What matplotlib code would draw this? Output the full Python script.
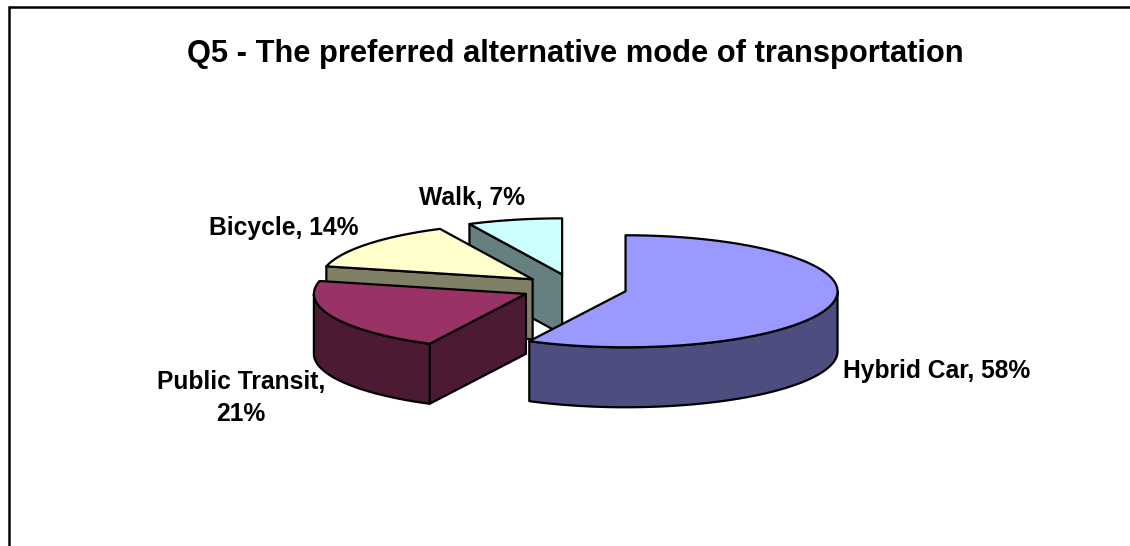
import numpy as np
import matplotlib
matplotlib.use("Agg")
import matplotlib.pyplot as plt
from matplotlib.patches import Polygon

plt.rcParams['font.family'] = ['Liberation Sans', 'DejaVu Sans']

title = "Q5 - The preferred alternative mode of transportation"
categories = ["Hybrid Car", "Public Transit", "Bicycle", "Walk"]
values = [57.5, 21.2, 14.1, 7.2]
top_colors = ["#9999FF", "#993366", "#FFFFCC", "#CCFFFF"]
side_colors = ["#4D4D80", "#4D1A33", "#808066", "#668080"]

W, H = 1130, 546
fig = plt.figure(figsize=(W / 100, H / 100), dpi=100)
ax = fig.add_axes([0, 0, 1, 1])
ax.set_xlim(0, W)
ax.set_ylim(H, 0)
ax.axis("off")

cx, cy, rx, ry, depth, explode = 574, 288, 212, 56, 60, 0.25

def pts(ax_, ay_, a):
    a = np.radians(a)
    return np.column_stack([ax_ + rx * np.sin(a), ay_ - ry * np.cos(a)])

fracs = np.array(values) / sum(values) * 360
starts = np.concatenate([[0], np.cumsum(fracs)[:-1]])
order = [3, 2, 1, 0]
lw = 1.6
for i in order:
    a0, a1 = starts[i], starts[i] + fracs[i]
    mid = np.radians((a0 + a1) / 2)
    ax_ = cx + explode * rx * np.sin(mid)
    ay_ = cy - explode * ry * np.cos(mid)
    style = dict(ec="black", lw=lw, joinstyle="round")
    # radial cut face, only where it faces the viewer
    for a, visible in ((a0, np.sin(np.radians(a0)) < -1e-9), (a1, np.sin(np.radians(a1)) > 1e-9)):
        if not visible:
            continue
        p = pts(ax_, ay_, a)[0]
        quad = [(ax_, ay_), tuple(p), (p[0], p[1] + depth), (ax_, ay_ + depth)]
        ax.add_patch(Polygon(quad, closed=True, fc=side_colors[i], **style))
    # outer rim (front half only)
    r0, r1 = max(a0, 90), min(a1, 270)
    if r1 > r0:
        arc = pts(ax_, ay_, np.linspace(r0, r1, 120))
        rim = np.vstack([arc, (arc + [0, depth])[::-1]])
        ax.add_patch(Polygon(rim, closed=True, fc=side_colors[i], **style))
    # top face
    arc = pts(ax_, ay_, np.linspace(a0, a1, 200))
    ax.add_patch(Polygon(np.vstack([[ax_, ay_], arc]), closed=True, fc=top_colors[i], **style))

# chart frame: the right and bottom sides fall outside the picture
ax.plot([9, 9, W], [H, 7, 7], color="black", lw=1.8, clip_on=False, solid_joinstyle="miter")

ax.text(575, 54, title, ha="center", va="center", fontsize=22.2, fontweight="bold")
label_fs = 17.7
def lab(i):
    return f"{categories[i]}, {round(values[i])}%"
ax.text(843, 371, lab(0), ha="left", va="center", fontsize=label_fs, fontweight="bold")
ax.text(241, 398, f"{categories[1]},\n{round(values[1])}%", ha="center", va="center",
        fontsize=label_fs, fontweight="bold", linespacing=1.4)
ax.text(284, 228, lab(2), ha="center", va="center", fontsize=label_fs, fontweight="bold")
ax.text(472, 198, lab(3), ha="center", va="center", fontsize=label_fs, fontweight="bold")

fig.savefig("out.png", dpi=100, facecolor="white")
